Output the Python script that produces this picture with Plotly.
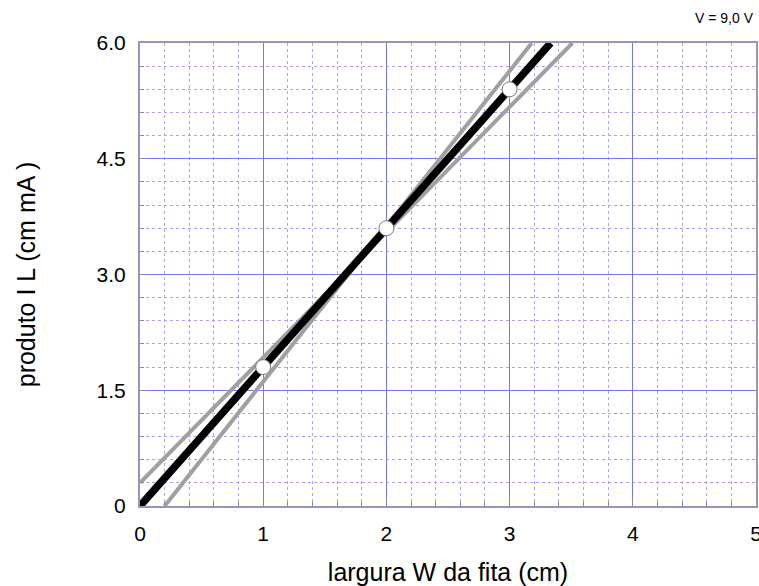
import plotly.graph_objects as go

# data
largura_W = [1, 2, 3]
produto_IL = [1.8, 3.6, 5.4]
fit_x = [0, 3.333]
fit_y = [0, 6.0]
maxline_x = [0, 3.51]
maxline_y = [0.3, 6.0]
minline_x = [0.2, 3.18]
minline_y = [0, 6.0]
x_ticks = [0, 1, 2, 3, 4, 5]
y_ticks = [0, 1.5, 3.0, 4.5, 6.0]
y_ticklabels = ["0", "1.5", "3.0", "4.5", "6.0"]

FONT = "Liberation Sans, Arial, Helvetica, sans-serif"
GRID = "rgb(120,120,235)"
MINGRID = "rgb(165,165,240)"
AXIS = "rgb(150,150,185)"
TICK = "rgb(140,140,150)"

fig = go.Figure()
fig.add_trace(go.Scatter(x=maxline_x, y=maxline_y, mode="lines",
                         line=dict(color="rgb(160,160,160)", width=4), showlegend=False))
fig.add_trace(go.Scatter(x=minline_x, y=minline_y, mode="lines",
                         line=dict(color="rgb(160,160,160)", width=4), showlegend=False))
fig.add_trace(go.Scatter(x=fit_x, y=fit_y, mode="lines",
                         line=dict(color="black", width=7.5), showlegend=False))
fig.add_trace(go.Scatter(x=largura_W, y=produto_IL, mode="markers",
                         marker=dict(size=15, color="white",
                                     line=dict(color="rgb(120,120,120)", width=1)),
                         showlegend=False, cliponaxis=False))

fig.update_layout(
    width=759, height=586,
    margin=dict(l=140, r=3, t=43, b=80, autoexpand=False),
    paper_bgcolor="white", plot_bgcolor="white",
    font=dict(family=FONT, color="black"),
)
fig.add_annotation(text="V = 9,0 V", xref="paper", yref="paper", x=1.0, y=1.0,
                   xanchor="right", yanchor="bottom", yshift=15, xshift=0,
                   showarrow=False, font=dict(size=14, family=FONT))

fig.update_xaxes(
    range=[0, 5], tickvals=x_ticks, ticktext=[str(v) for v in x_ticks],
    tickfont=dict(size=21), ticks="inside", ticklen=8, tickcolor=TICK,
    ticklabelstandoff=8, automargin=False, ticklabeloverflow="allow",
    showgrid=True, gridcolor=GRID, gridwidth=1,
    showline=True, linecolor=AXIS, linewidth=2, mirror=True, zeroline=False,
    minor=dict(dtick=0.2, showgrid=True, gridcolor=MINGRID, griddash="dot",
               ticks="inside", ticklen=4, tickcolor=TICK),
    title=dict(text="largura W da fita (cm)", font=dict(size=25), standoff=22),
)
fig.update_yaxes(
    range=[0, 6], tickvals=y_ticks, ticktext=y_ticklabels,
    tickfont=dict(size=21), ticks="inside", ticklen=8, tickcolor=TICK,
    ticklabelstandoff=8, automargin=False,
    showgrid=True, gridcolor=GRID, gridwidth=1,
    showline=True, linecolor=AXIS, linewidth=2, mirror=True, zeroline=False,
    minor=dict(dtick=0.3, showgrid=True, gridcolor=MINGRID, griddash="dot",
               ticks="inside", ticklen=4, tickcolor=TICK),
    title=dict(text="produto I L (cm mA )", font=dict(size=25), standoff=54),
)

fig.write_html(
    "out.html",
    config={"displayModeBar": False},
    post_script="document.body.style.margin='0';document.body.style.overflow='hidden';",
)
